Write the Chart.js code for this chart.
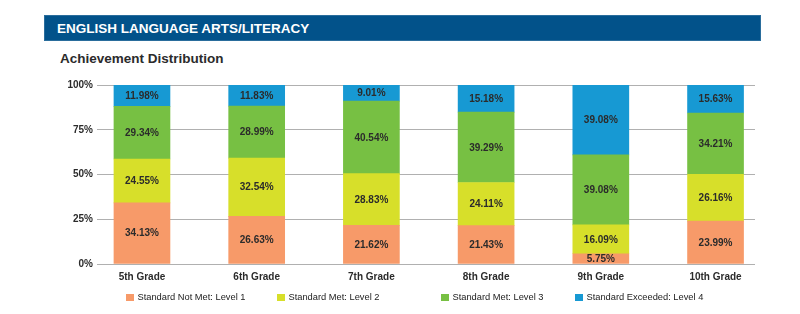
<!DOCTYPE html>
<html>
<head>
<meta charset="utf-8">
<script src="https://cdn.jsdelivr.net/npm/chart.js@4/dist/chart.umd.min.js"></script>
<style>
  html, body { margin: 0; padding: 0; background: #fff; }
  body { width: 800px; height: 314px; position: relative; overflow: hidden; font-family: "Liberation Sans", Arial, sans-serif; }
  #header { position: absolute; left: 44px; top: 15px; width: 715px; height: 24px; background: #02528a; border: 1px solid #2a6d9c; }
  #header span { position: absolute; left: 12px; top: 5px; color: #fff; font-weight: bold; font-size: 13.5px; }
  #subtitle { position: absolute; left: 60px; top: 51px; color: #2b2b2b; font-weight: bold; font-size: 13.5px; }
  #chart-wrap { position: absolute; left: 0; top: 0; width: 800px; height: 314px; }
  #legend { position: absolute; left: 0; top: 0; width: 800px; height: 314px; pointer-events: none; }
  .legend-item { position: absolute; top: 292px; font-size: 9.3px; color: #222; white-space: nowrap; }
  .legend-item i { position: absolute; left: 0; top: 1.5px; width: 7.5px; height: 7.5px; }
  .legend-item span { position: absolute; left: 11.5px; top: 0; }
</style>
</head>
<body>
<div id="header"><span>ENGLISH LANGUAGE ARTS/LITERACY</span></div>
<div id="subtitle">Achievement Distribution</div>
<div id="chart-wrap"><canvas id="achievement-chart" width="800" height="314"></canvas></div>
<div id="legend"></div>
<script>
const grades = ['5th Grade', '6th Grade', '7th Grade', '8th Grade', '9th Grade', '10th Grade'];
const seriesNames = ['Standard Not Met: Level 1', 'Standard Met: Level 2', 'Standard Met: Level 3', 'Standard Exceeded: Level 4'];
const level1 = [34.13, 26.63, 21.62, 21.43, 5.75, 23.99];
const level2 = [24.55, 32.54, 28.83, 24.11, 16.09, 26.16];
const level3 = [29.34, 28.99, 40.54, 39.29, 39.08, 34.21];
const level4 = [11.98, 11.83, 9.01, 15.18, 39.08, 15.63];
const yTicks = [0, 25, 50, 75, 100];

(function(){
  const colors = ['#f79a69', '#d7df2a', '#77c043', '#1799d3'];
  const legendLeft = [126, 277, 441, 575];
  const levels = [level1, level2, level3, level4];

  // legend built from the series names
  const legend = document.getElementById('legend');
  seriesNames.forEach((name, i) => {
    const item = document.createElement('div');
    item.className = 'legend-item';
    item.style.left = legendLeft[i] + 'px';
    const sw = document.createElement('i');
    sw.style.background = colors[i];
    const txt = document.createElement('span');
    txt.textContent = name;
    item.appendChild(sw);
    item.appendChild(txt);
    legend.appendChild(item);
  });

  // values printed in the middle of every segment
  const segmentLabels = {
    id: 'segmentLabels',
    afterDatasetsDraw(chart){
      const ctx = chart.ctx;
      ctx.save();
      ctx.font = 'bold 10px "Liberation Sans", Arial, sans-serif';
      ctx.fillStyle = '#2b2b2b';
      ctx.textAlign = 'center';
      ctx.textBaseline = 'middle';
      chart.data.datasets.forEach((ds, di) => {
        const meta = chart.getDatasetMeta(di);
        meta.data.forEach((bar, i) => {
          const v = levels[di][i];
          const y = (bar.y + bar.base) / 2 + 0.5;
          ctx.fillText(v.toFixed(2) + '%', bar.x, y);
        });
      });
      ctx.restore();
    }
  };

  const ctx = document.getElementById('achievement-chart');
  new Chart(ctx, {
    type: 'bar',
    data: {
      datasets: levels.map((vals, di) => ({
        label: seriesNames[di],
        data: vals.map((v, i) => ({ x: i, y: v })),
        backgroundColor: colors[di],
        borderWidth: 0,
        barThickness: 56
      }))
    },
    options: {
      responsive: false,
      animation: false,
      layout: { padding: { left: 57, right: 45, top: 85, bottom: 10 } },
      plugins: { legend: { display: false }, tooltip: { enabled: false } },
      scales: {
        x: {
          type: 'linear',
          stacked: true,
          offset: false,
          min: -0.392,
          max: 5.344,
          grid: { display: false, drawTicks: false },
          border: { display: false },
          afterBuildTicks: (scale) => { scale.ticks = grades.map((g, i) => ({ value: i })); },
          afterFit: (scale) => { scale.height = 40; },
          ticks: {
            autoSkip: false,
            maxRotation: 0,
            padding: 7,
            color: '#2b2b2b',
            font: { family: '"Liberation Sans", Arial, sans-serif', size: 10, weight: 'bold' },
            callback: (v) => grades[v]
          }
        },
        y: {
          stacked: true,
          min: 0,
          max: 100,
          afterBuildTicks: (scale) => { scale.ticks = yTicks.map(v => ({ value: v })); },
          afterFit: (scale) => { scale.width = 40; },
          grid: { color: '#b0b0b0', lineWidth: 1, drawTicks: false },
          border: { display: false },
          ticks: {
            padding: 4,
            color: '#2b2b2b',
            font: { family: '"Liberation Sans", Arial, sans-serif', size: 10, weight: 'bold' },
            callback: (v) => v + '%'
          }
        }
      }
    },
    plugins: [segmentLabels]
  });
})();
</script>
</body>
</html>
